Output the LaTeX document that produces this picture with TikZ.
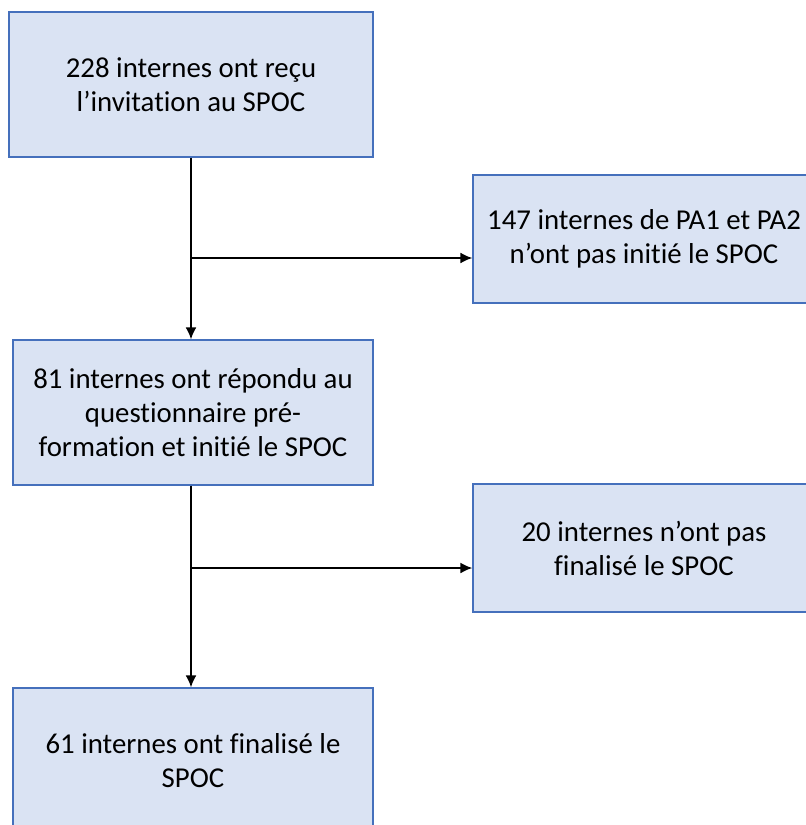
\documentclass[tikz,border=0pt]{standalone}
\usepackage{fontspec}
\setmainfont{Carlito}[RawFeature=-liga]
\usetikzlibrary{arrows.meta}

\begin{document}
\begin{tikzpicture}[x=1pt, y=-1pt, box/.style={rectangle, draw=boxline, fill=boxfill, line width=1.2pt, align=center, font=\fontsize{28.8}{34}\selectfont, inner sep=0pt}, n/.style={-{Latex[length=12pt, width=11pt]}, line width=2pt}]
            \definecolor{boxfill}{HTML}{DAE3F3}
            \definecolor{boxline}{HTML}{4570BC}
            \useasboundingbox (0,0) rectangle (806,825);
            \clip (0,0) rectangle (806,825);
            % nodes
            \node[box, minimum width=364pt, minimum height=145pt] (invit) at (191,84.5) {228 internes ont reçu\\l’invitation au SPOC};
            \node[box, minimum width=342pt, minimum height=128pt] (noinit) at (644,239) {147 internes de PA1 et PA2\\n’ont pas initié le SPOC};
            \node[box, minimum width=360pt, minimum height=145pt] (init) at (193,412.5) {81 internes ont répondu au\\questionnaire pré-\\formation et initié le SPOC};
            \node[box, minimum width=342pt, minimum height=128pt] (nofin) at (644,548) {20 internes n’ont pas\\finalisé le SPOC};
            \node[box, minimum width=360pt, minimum height=145pt] (fin) at (193,760.5) {61 internes ont finalisé le\\SPOC};
            \coordinate (split1) at (191,258);
            \coordinate (split2) at (191,568);
            % edges
            \draw [n] (invit.south -| split1) -- (init.north -| split1);
            \draw [n] (split1) -- (split1 -| noinit.west);
            \draw [n] (init.south -| split2) -- (fin.north -| split2);
            \draw [n] (split2) -- (split2 -| nofin.west);
        \end{tikzpicture}
\end{document}
